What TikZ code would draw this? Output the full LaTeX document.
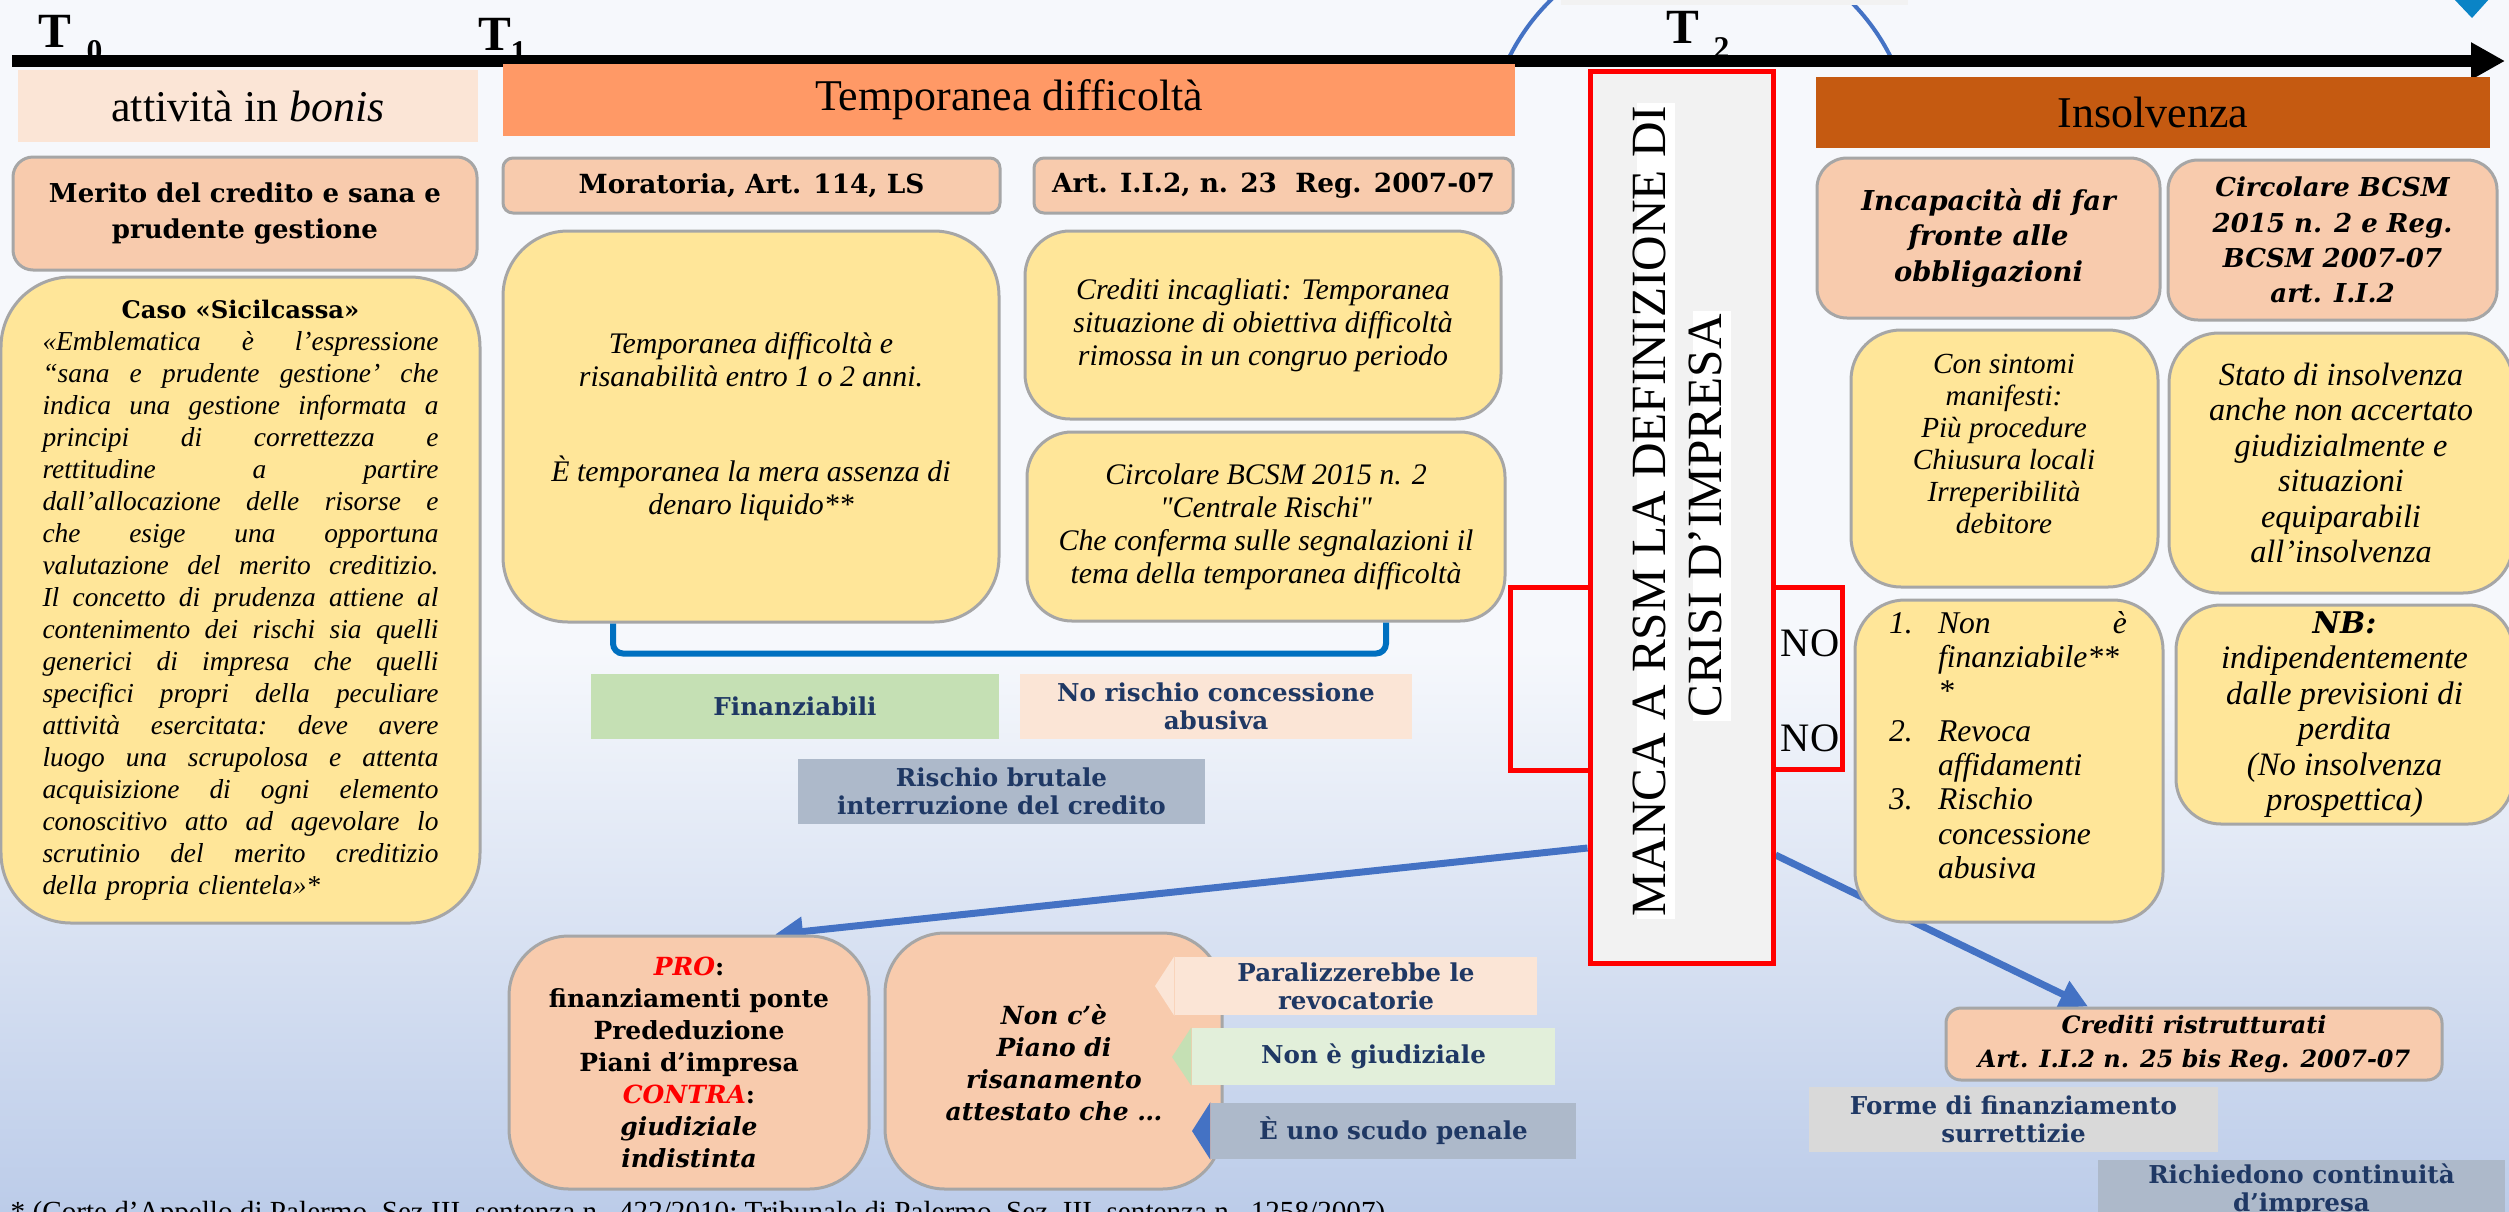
\documentclass[tikz,border=0pt]{standalone}
\usepackage{fontspec}
\setmainfont{Liberation Serif}
\newfontfamily\geo{DejaVu Serif}
% plain italic face without the TeX character mapping, for straight quotes
\font\qfont="Liberation Serif/I" at 8.5pt
\usetikzlibrary{arrows.meta,calc}

\definecolor{bgtop}{HTML}{F6F8FC}
\definecolor{bgbot}{HTML}{BCCCE9}
\definecolor{peachlt}{HTML}{FBE5D6}
\definecolor{orangehd}{HTML}{FF9966}
\definecolor{rust}{HTML}{C55A11}
\definecolor{peach}{HTML}{F8CBAD}
\definecolor{yel}{HTML}{FFE699}
\definecolor{bgray}{HTML}{A6A6A6}
\definecolor{greenbx}{HTML}{C5E0B4}
\definecolor{greenlt}{HTML}{E2EFDA}
\definecolor{slate}{HTML}{ADB9CA}
\definecolor{lgray}{HTML}{D9D9D9}
\definecolor{navy}{HTML}{1F3864}
\definecolor{arrowblue}{HTML}{4472C4}
\definecolor{brblue}{HTML}{0070C0}
\definecolor{mred}{HTML}{FF0000}
\definecolor{mgray}{HTML}{F2F2F2}
\definecolor{tri}{HTML}{0A84C6}

\newcommand\fs[2]{\fontsize{#1}{#2}\selectfont}
% box node: style, name, x0, y0, x1, y1, text (pixel-like units)
\newcommand\bx[7]{\node[#1,minimum width={(#5-#3)*0.1mm},minimum height={(#6-#4)*0.1mm}] (#2) at ({(#3+#5)/2},{(#4+#6)/2}) {#7};}
% justified line of fixed width
\newcommand\jl[1]{\leavevmode\hbox to 39.6mm{\frenchspacing\spaceskip=0.25em plus 1fil\xspaceskip=0.25em plus 1fil\relax#1}\\}
\newcommand\sq{{\qfont\char"22}}

\pgfdeclarelayer{back}
\pgfdeclarelayer{links}
\pgfsetlayers{back,links,main}

\tikzset{
  box/.style={draw=bgray,line width=0.3mm,inner sep=0pt,align=center},
  flat/.style={inner sep=0pt,align=center},
  navytxt/.style={text=navy,font=\geo\bfseries\fs{7}{8}},
  tlab/.style={font=\bfseries\fs{14}{16},inner sep=0pt,anchor=base west},
  tsub/.style={font=\bfseries\fs{9}{10},inner sep=0pt,anchor=base west},
  bigarrow/.style={draw=arrowblue,line width=0.7mm,-{Triangle[length=2.8mm,width=2.8mm]}},
  redline/.style={draw=mred,line width=0.5mm},
  vtext/.style={rotate=90,fill=white,inner xsep=0.3mm,inner ysep=0.1mm,text height=0.8em,text depth=0.25em,font=\fs{14}{16}}
}

\begin{document}
\begin{tikzpicture}[x=0.1mm,y=-0.1mm]
\useasboundingbox (0,0) rectangle (2509,1211);

\begin{pgfonlayer}{back}
  \fill[bgtop] (0,0) rectangle (2509,1211);
  \shade[top color=bgtop,bottom color=bgbot] (0,650) rectangle (2509,1211);
\end{pgfonlayer}

% arc over T2
\begin{scope}
  \clip (1400,-60) rectangle (2000,62);
  \draw[arrowblue,line width=0.4mm] (1700,152) circle[radius=21.3mm];
\end{scope}
\fill[mgray] (1561,-5) rectangle (1908,5);
\fill[tri] (2453,-2) -- (2490,-2) -- (2472,18) -- cycle;

% time labels
\node[tlab] (t0) at (38,47) {T};
\node[tsub] (t0s) at (86,61) {0};
\node[tlab] (t1) at (478,50) {T};
\node[tsub] (t1s) at (510,62) {1};
\node[tlab] (t2) at (1666,43) {T};
\node[tsub] (t2s) at (1713,58) {2};

% time axis
\coordinate (tlstart) at (12,61);
\coordinate (tlend) at (2505,61);
\draw[line width=1.2mm,-{Triangle[length=3.4mm,width=3.5mm]}] (tlstart) -- (tlend);

% phase headers
\bx{flat,fill=peachlt,font=\fs{12.5}{14}}{bonis}{18}{70}{478}{142}{attività in \textit{bonis}}
\bx{flat,fill=orangehd,font=\fs{12.5}{14}}{tempd}{503}{64}{1515}{136}{Temporanea difficoltà}
\bx{flat,fill=rust,font=\fs{12.5}{14}}{insolv}{1816}{77}{2490}{148}{Insolvenza}

% second row
\bx{box,fill=peach,rounded corners=2mm,font=\geo\bfseries\fs{7.4}{10}}{merito}{13}{157}{477}{270}{Merito del credito e sana e\\prudente gestione}
\bx{box,fill=peach,rounded corners=1mm,font=\geo\bfseries\fs{7.5}{10}}{morat}{503}{158}{1000}{213}{Moratoria, Art. 114, LS}
\bx{box,fill=peach,rounded corners=1mm,font=\geo\bfseries\fs{7.5}{10}}{artii}{1034}{158}{1513}{213}{Art. I.I.2, n. 23\ \ Reg. 2007-07}
\bx{box,fill=peach,rounded corners=3mm,font=\geo\bfseries\itshape\fs{7.8}{10.1}}{incap}{1817}{158}{2160}{318}{Incapacità di far\\fronte alle\\obbligazioni}
\bx{box,fill=peach,rounded corners=3mm,font=\geo\bfseries\itshape\fs{7.4}{10}}{circtop}{2168}{160}{2497}{320}{Circolare BCSM\\2015 n. 2 e Reg.\\BCSM 2007-07\\art. I.I.2}

% Sicilcassa quotation
\bx{box,fill=yel,rounded corners=7mm,text width=39.6mm,font=\itshape\fs{7.8}{9.1}}{sicil}{1}{277}{480}{923}{%
{\geo\bfseries\upshape\fs{6.9}{9.1}Caso «Sicilcassa»}\\
\jl{«Emblematica è l’espressione}
\jl{“sana e prudente gestione’ che}
\jl{indica una gestione informata a}
\jl{principi di correttezza e}
\jl{rettitudine a partire}
\jl{dall’allocazione delle risorse e}
\jl{che esige una opportuna}
\jl{valutazione del merito creditizio.}
\jl{Il concetto di prudenza attiene al}
\jl{contenimento dei rischi sia quelli}
\jl{generici di impresa che quelli}
\jl{specifici propri della peculiare}
\jl{attività esercitata: deve avere}
\jl{luogo una scrupolosa e attenta}
\jl{acquisizione di ogni elemento}
\jl{conoscitivo atto ad agevolare lo}
\jl{scrutinio del merito creditizio}
\leavevmode\hbox to 39.6mm{della propria clientela»*\hfil}}

% temporary difficulty boxes
\bx{box,fill=yel,rounded corners=6.5mm,font=\itshape\fs{8.5}{9.4}}{bigt}{503}{231}{999}{622}{Temporanea difficoltà e\\risanabilità entro 1 o 2 anni.\\[6.2mm]È temporanea la mera assenza di\\denaro liquido**}
\bx{box,fill=yel,rounded corners=4.5mm,font=\itshape\fs{8.5}{9.4}}{incag}{1025}{231}{1501}{419}{Crediti incagliati: Temporanea\\situazione di obiettiva difficoltà\\rimossa in un congruo periodo}
\bx{box,fill=yel,rounded corners=4.5mm,font=\itshape\fs{8.5}{9.4}}{circmid}{1027}{432}{1505}{621}{Circolare BCSM 2015 n. 2\\\sq Centrale Rischi\sq\\Che conferma sulle segnalazioni il\\tema della temporanea difficoltà}

\draw[brblue,line width=0.6mm,rounded corners=1mm] (bigt.south -| 613,0) -- ++(0,30) -| (circmid.south -| 1386,0);

\bx{flat,fill=greenbx,navytxt}{finanz}{591}{674}{999}{739}{Finanziabili}
\bx{flat,fill=peachlt,navytxt}{norisk}{1020}{674}{1412}{739}{No rischio concessione\\abusiva}
\bx{flat,fill=slate,navytxt}{brutal}{798}{759}{1205}{824}{Rischio brutale\\interruzione del credito}

% central statement
\bx{flat,draw=mred,line width=0.5mm,fill=mgray}{manca}{1590}{71}{1773}{963}{}
\node[vtext] (manca1) at (1656,511) {MANCA A RSM LA DEFINIZIONE DI};
\node[vtext] (manca2) at (1712,516) {CRISI D’IMPRESA};
\draw[redline] (manca.west |- 0,587) -| (1510,770) -- (manca.west |- 0,770);
\draw[redline] (manca.east |- 0,587) -| (1842,769) -- (manca.east |- 0,769);
\node[inner sep=0pt,font=\fs{11.5}{12}] (no1) at (1810,643) {NO};
\node[inner sep=0pt,font=\fs{11.5}{12}] (no2) at (1810,738) {NO};

% insolvency boxes
\bx{box,fill=yel,rounded corners=5mm}{sintomi}{1851}{330}{2158}{587}{}
\node[flat,font=\itshape\fs{8.3}{9.1}] (sintomitxt) at (2004,444) {Con sintomi\\manifesti:\\Più procedure\\Chiusura locali\\Irreperibilità\\debitore};
\bx{box,fill=yel,rounded corners=5mm,font=\itshape\fs{9.2}{10.1}}{stato}{2169}{333}{2513}{593}{Stato di insolvenza\\anche non accertato\\giudizialmente e\\situazioni\\equiparabili\\all’insolvenza}
\bx{box,fill=yel,rounded corners=5mm}{nonfin}{1855}{600}{2163}{922}{}
\node[flat,align=left,font=\itshape\fs{9}{9.7}] (nonfintxt) at (2008,745) {%
\makebox[4.9mm][l]{1.}\makebox[18.9mm][s]{Non\hfill è}\\
\hspace*{4.9mm}finanziabile**\\
\hspace*{4.9mm}*\\[0.6mm]
\makebox[4.9mm][l]{2.}Revoca\\
\hspace*{4.9mm}affidamenti\\
\makebox[4.9mm][l]{3.}Rischio\\
\hspace*{4.9mm}concessione\\
\hspace*{4.9mm}abusiva};
\bx{box,fill=yel,rounded corners=4.5mm,font=\itshape\fs{9.3}{10.1}}{nb}{2176}{605}{2513}{824}{{\geo\bfseries\fs{8.5}{10.1}NB:}\\indipendentemente\\dalle previsioni di\\perdita\\(No insolvenza\\prospettica)}

% bottom left boxes
\bx{box,fill=peach,rounded corners=6mm,font=\geo\bfseries\fs{7.1}{9.1}}{pro}{509}{936}{869}{1189}{\textcolor{mred}{\itshape PRO}:\\finanziamenti ponte\\Prededuzione\\Piani d’impresa\\\textcolor{mred}{\itshape CONTRA}:\\\textit{giudiziale}\\\textit{indistinta}}
\bx{box,fill=peach,rounded corners=6mm}{noplan}{885}{933}{1222}{1189}{}
\node[flat,font=\geo\bfseries\itshape\fs{7.1}{9.1}] (noplantxt) at (1054,1063) {Non c’è\\Piano di\\risanamento\\attestato che …};

% callouts
\bx{flat,fill=peachlt,navytxt}{paral}{1175}{957}{1537}{1015}{Paralizzerebbe le\\revocatorie}
\coordinate (paraltip) at (1155,986);
\fill[peachlt] (paral.north west) -- (paraltip) -- (paral.south west) -- cycle;
\bx{flat,fill=greenlt,navytxt}{giudiz}{1192}{1028}{1555}{1085}{Non è giudiziale}
\coordinate (giudtip) at (1172,1057);
\fill[greenbx] (giudiz.north west) -- (giudtip) -- (giudiz.south west) -- cycle;
\bx{flat,fill=slate,navytxt}{scudo}{1211}{1103}{1576}{1159}{È uno scudo penale}
\coordinate (scudotip) at (1192,1131);
\fill[arrowblue] (scudo.north west) -- (scudotip) -- (scudo.south west) -- cycle;

% bottom right boxes
\bx{box,fill=peach,rounded corners=1.5mm,font=\geo\bfseries\itshape\fs{6.8}{9.6}}{credr}{1946}{1008}{2442}{1080}{Crediti ristrutturati\\Art. I.I.2 n. 25 bis Reg. 2007-07}
\bx{flat,fill=lgray,navytxt}{forme}{1809}{1087}{2218}{1152}{Forme di finanziamento\\surrettizie}
\bx{flat,fill=slate,navytxt}{richied}{2098}{1160}{2505}{1220}{Richiedono continuità\\d’impresa}

% footnote
\node[anchor=base west,inner sep=0pt,font=\fs{8.3}{9}] (foot) at (10,1221) {* (Corte d’Appello di Palermo, Sez.III, sentenza n.\ \ 422/2010; Tribunale di Palermo, Sez.\ III, sentenza n.\ \ 1258/2007)};

% connectors
\begin{pgfonlayer}{links}
  \draw[bigarrow] (manca.west |- 0,848) -- (pro.north -| 775,0);
  \draw[bigarrow] (manca.east |- 0,855) -- (credr.north -| 2088,0);
\end{pgfonlayer}
\end{tikzpicture}
\end{document}
